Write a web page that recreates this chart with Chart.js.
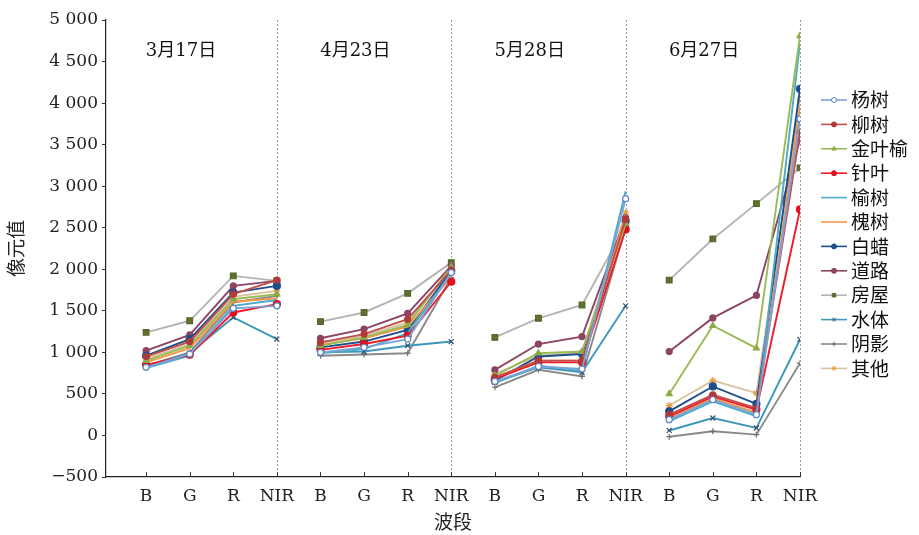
<!DOCTYPE html>
<html>
<head>
<meta charset="utf-8">
<script src="https://cdn.jsdelivr.net/npm/chart.js@4.4.0/dist/chart.umd.min.js"></script>
<style>
html, body { margin: 0; padding: 0; background: #fff; }
#wrap { width: 919px; height: 535px; }
</style>
</head>
<body>
<div id="wrap"><canvas id="myChart"></canvas></div>
<script>
// categories
const bands = ['B', 'G', 'R', 'NIR'];
const dates = ['3月17日', '4月23日', '5月28日', '6月27日'];
const classes = ['杨树', '柳树', '金叶榆', '针叶', '榆树', '槐树', '白蜡', '道路', '房屋', '水体', '阴影', '其他'];

// pixel values, 4 dates x (B, G, R, NIR)
const yangshu  = [820, 980, 1530, 1560,   1000, 1060, 1160, 1960,   650, 830, 800, 2850,   190, 430, 250, 3810];
const liushu   = [950, 1130, 1700, 1870,  1120, 1220, 1400, 1990,   700, 900, 900, 2600,   250, 490, 330, 3650];
const jinyeyu  = [900, 1080, 1640, 1700,  1080, 1180, 1330, 2030,   720, 990, 1010, 2550,  500, 1320, 1050, 4810];
const zhenye   = [850, 970, 1480, 1580,   1030, 1100, 1200, 1850,   680, 880, 880, 2480,   230, 470, 310, 2720];
const yushu    = [810, 960, 1560, 1630,   990, 1040, 1230, 1950,    630, 840, 780, 2940,   170, 410, 230, 4720];
const huaishu  = [880, 1050, 1610, 1650,  1090, 1170, 1310, 1910,   700, 900, 900, 2650,   210, 450, 270, 3950];
const baila    = [960, 1160, 1720, 1800,  1060, 1130, 1270, 1980,   660, 950, 980, 2580,   290, 590, 380, 4170];
const daolu    = [1020, 1210, 1800, 1860, 1170, 1280, 1470, 2040,   790, 1100, 1190, 2620,  1010, 1415, 1685, 3560];
const fangwu   = [1240, 1380, 1920, 1860, 1370, 1480, 1710, 2080,   1180, 1410, 1570, 2520, 1870, 2365, 2790, 3220];
const shuiti   = [830, 990, 1420, 1160,   1000, 1010, 1080, 1130,   640, 820, 760, 1560,   60, 210, 90, 1155];
const yinying  = [840, 1000, 1600, 1680,  960, 975, 990, 1900,      580, 790, 710, 2500,   -15, 50, 10, 870];
const qita     = [920, 1100, 1670, 1740,  1110, 1200, 1360, 2000,   740, 960, 1000, 2680,  360, 660, 510, 4040];

const seriesValues = [yangshu, liushu, jinyeyu, zhenye, yushu, huaishu, baila, daolu, fangwu, shuiti, yinying, qita];

const styles = [
    { line: '#7BA3D6', point: '#5B86C4', fill: '#ffffff', shape: 'circle', r: 3 },
    { line: '#C0504D', point: '#B03A3A', fill: '#B03A3A', shape: 'circle', r: 3 },
    { line: '#9BBB59', point: '#8AAA48', fill: '#8AAA48', shape: 'triangle', r: 3.5 },
    { line: '#EE1C2A', point: '#E0101E', fill: '#E0101E', shape: 'circle', r: 3.5 },
    { line: '#4BACC6', point: '#4BACC6', fill: '#4BACC6', shape: 'circle', r: 0 },
    { line: '#F79646', point: '#F79646', fill: '#F79646', shape: 'circle', r: 0 },
    { line: '#1F4E8C', point: '#1F4E8C', fill: '#1F4E8C', shape: 'circle', r: 3.5 },
    { line: '#8C4462', point: '#8C4462', fill: '#8C4462', shape: 'circle', r: 3 },
    { line: '#B4B4B4', point: '#55662A', fill: '#5F7030', shape: 'rect', r: 4 },
    { line: '#3D98B8', point: '#35506E', fill: '#35506E', shape: 'crossRot', r: 3.5 },
    { line: '#8A8A8A', point: '#707070', fill: '#707070', shape: 'cross', r: 3 },
    { line: '#D9C4A0', point: '#E89A40', fill: '#E89A40', shape: 'star', r: 3.5 }
];

function buildPoints(vals) {
    let pts = [];
    for (let p = 0; p < dates.length; p++) {
        for (let b = 0; b < bands.length; b++) {
            pts.push({ x: p * 4 + b, y: vals[p * 4 + b] });
        }
        if (p < dates.length - 1) pts.push({ x: p * 4 + 3.5, y: null }); // break between dates
    }
    return pts;
}

const serif = '"DejaVu Serif", "Liberation Serif", serif';
const cjk = '"DejaVu Serif", "Noto Sans CJK SC", sans-serif';

// dotted separators, inward x ticks, date labels
const panelPlugin = {
    id: 'panels',
    beforeDatasetsDraw(chart) {
        const ctx = chart.ctx, xs = chart.scales.x, area = chart.chartArea;
        ctx.save();
        ctx.strokeStyle = '#9a9a9a';
        ctx.lineWidth = 1;
        ctx.setLineDash([2, 2]);
        for (let p = 0; p < dates.length; p++) {
            const px = Math.round(xs.getPixelForValue(p * 4 + 3)) + 0.5;
            ctx.beginPath();
            ctx.moveTo(px, area.top);
            ctx.lineTo(px, area.bottom);
            ctx.stroke();
        }
        ctx.setLineDash([]);
        ctx.strokeStyle = '#333';
        xs.ticks.forEach(t => {
            const px = Math.round(xs.getPixelForValue(t.value)) + 0.5;
            ctx.beginPath();
            ctx.moveTo(px, area.bottom);
            ctx.lineTo(px, area.bottom - 5);
            ctx.stroke();
        });
        ctx.restore();
    },
    afterDatasetsDraw(chart) {
        const ctx = chart.ctx, xs = chart.scales.x, ys = chart.scales.y;
        ctx.save();
        ctx.font = '18px ' + cjk;
        ctx.fillStyle = '#111';
        ctx.textAlign = 'center';
        ctx.textBaseline = 'middle';
        dates.forEach((d, p) => {
            ctx.fillText(d, xs.getPixelForValue(p * 4 + 0.8), ys.getPixelForValue(4620));
        });
        ctx.restore();
    }
};

// legend drawn as line + marker like the original
const legendPlugin = {
    id: 'sideLegend',
    afterDraw(chart) {
        const ctx = chart.ctx, area = chart.chartArea;
        const x0 = area.right + 21, y0 = 100, step = 24.4;
        ctx.save();
        chart.data.datasets.forEach((ds, i) => {
            const y = y0 + i * step;
            const st = styles[i];
            ctx.strokeStyle = st.line;
            ctx.lineWidth = 1.6;
            ctx.setLineDash([]);
            ctx.beginPath();
            ctx.moveTo(x0, y);
            ctx.lineTo(x0 + 26, y);
            ctx.stroke();
            if (st.r > 0) {
                ctx.fillStyle = st.fill;
                ctx.strokeStyle = st.point;
                ctx.lineWidth = 1;
                Chart.helpers.drawPoint(ctx, { pointStyle: st.shape, rotation: 0, radius: 2.5, borderWidth: 1 }, x0 + 13, y);
            }
            ctx.fillStyle = '#111';
            ctx.font = '19px "Noto Sans CJK SC", sans-serif';
            ctx.textAlign = 'left';
            ctx.textBaseline = 'middle';
            ctx.fillText(ds.label, x0 + 30, y);
        });
        ctx.restore();
    }
};

const ctx = document.getElementById('myChart').getContext('2d');
const chart = new Chart(ctx, {
    type: 'line',
    data: {
        datasets: classes.map((name, i) => ({
            label: name,
            data: buildPoints(seriesValues[i]),
            borderColor: styles[i].line,
            borderWidth: 1.9,
            pointStyle: styles[i].shape,
            pointRadius: styles[i].r,
            pointBorderColor: styles[i].point,
            pointBackgroundColor: styles[i].fill,
            pointBorderWidth: 1.2,
            spanGaps: false,
            lineTension: 0,
            fill: false
        }))
    },
    options: {
        animation: false,
        responsive: true,
        maintainAspectRatio: false,
        layout: { padding: { top: 20, right: 119, left: 0, bottom: 0 } },
        plugins: {
            legend: { display: false },
            tooltip: { enabled: false }
        },
        scales: {
            x: {
                type: 'linear',
                min: -0.92,
                max: 15,
                afterFit: (scale) => { scale.height = 58; },
                afterBuildTicks: (scale) => {
                    scale.ticks = scale.ticks.filter(t => Number.isInteger(t.value) && t.value >= 0);
                },
                ticks: {
                    stepSize: 1,
                    includeBounds: false,
                    autoSkip: false,
                    maxRotation: 0,
                    padding: 9,
                    color: '#222',
                    font: { family: serif, size: 17 },
                    callback: (v) => (v >= 0 && Number.isInteger(v)) ? bands[v % 4] : ''
                },
                grid: { display: true, drawOnChartArea: false, drawTicks: false, tickLength: 0 },
                border: { color: '#222', width: 1.2 },
                title: {
                    display: true,
                    text: '波段',
                    color: '#222',
                    font: { family: '"Noto Sans CJK SC", sans-serif', size: 19 },
                    padding: { top: 0, bottom: 2 }
                }
            },
            y: {
                min: -500,
                max: 5000,
                afterFit: (scale) => { scale.width = 106; },
                ticks: {
                    stepSize: 500,
                    padding: 4,
                    color: '#222',
                    font: { family: serif, size: 17 },
                    callback: (v) => {
                        const s = Math.abs(v) >= 1000 ? Math.floor(Math.abs(v) / 1000) + ' ' + String(Math.abs(v) % 1000).padStart(3, '0') : String(Math.abs(v));
                        return (v < 0 ? '\u2212' : '') + s;
                    }
                },
                grid: { display: true, drawOnChartArea: false, tickLength: 4, color: '#333' },
                border: { color: '#222', width: 1.2 },
                title: {
                    display: true,
                    text: '像元值',
                    color: '#222',
                    font: { family: '"Noto Sans CJK SC", sans-serif', size: 19 },
                    padding: { top: 4, bottom: 0 }
                }
            }
        }
    },
    plugins: [panelPlugin, legendPlugin]
});
</script>
</body>
</html>
